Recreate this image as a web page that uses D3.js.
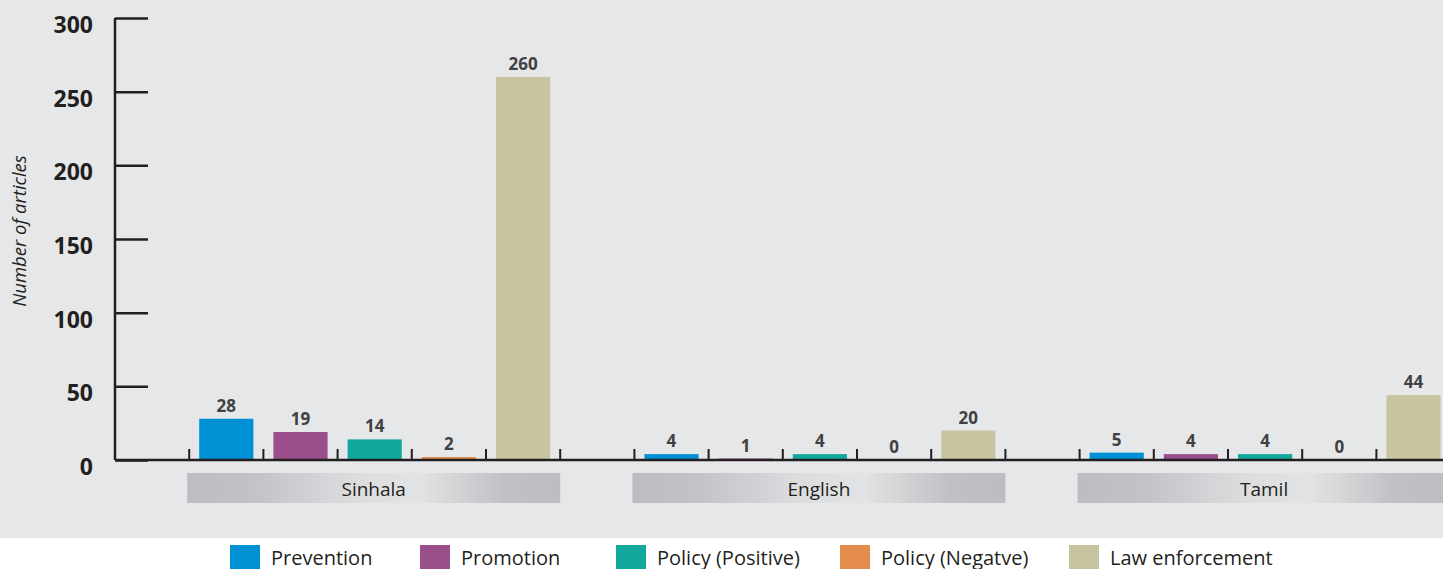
<!DOCTYPE html>
<html>
<head>
<meta charset="utf-8">
<script src="https://cdn.jsdelivr.net/npm/d3@7/dist/d3.min.js"></script>
<style>
  html, body { margin: 0; padding: 0; background: #ffffff; }
  svg { display: block; }
  text { font-family: "Open Sans", "Noto Sans", sans-serif; }
</style>
</head>
<body>
<svg id="chart" width="1443" height="569"></svg>
<script>
// ---- data ----
const categories = ["Sinhala", "English", "Tamil"];
const series = ["Prevention", "Promotion", "Policy (Positive)", "Policy (Negatve)", "Law enforcement"];
const sinhalaValues = [28, 19, 14, 2, 260];
const englishValues = [4, 1, 4, 0, 20];
const tamilValues = [5, 4, 4, 0, 44];
const yTicks = [0, 50, 100, 150, 200, 250, 300];
const colors = ["#0091d5", "#9a4f8b", "#12a89d", "#e38c4b", "#c7c49f"];
const yTitle = "Number of articles";

const valuesByCategory = [sinhalaValues, englishValues, tamilValues];
const table = categories.map((c, i) => ({ category: c, values: series.map((s, j) => ({ series: s, value: valuesByCategory[i][j] })) }));

// ---- layout ----
const W = 1443, H = 569;
const axisX = 115, baseY = 460, topY = 18;
const slot = 74.2;
const svg = d3.select("#chart");

svg.append("rect").attr("x", 0).attr("y", 0).attr("width", W).attr("height", 538).attr("fill", "#e6e7e8");

const defs = svg.append("defs");
const grad = defs.append("linearGradient").attr("id", "lblGrad").attr("x1", "0%").attr("x2", "100%").attr("y1", "0%").attr("y2", "0%");
[[0, "#bcbdc0"], [0.18, "#c2c3c6"], [0.45, "#dcdddf"], [0.62, "#e2e3e4"], [0.85, "#c0c1c4"], [1, "#bcbdc0"]]
  .forEach(([o, c]) => grad.append("stop").attr("offset", o).attr("stop-color", c));

const y = d3.scaleLinear().domain([0, 300]).range([baseY, topY]);
const x0 = d3.scaleBand().domain(categories).range([axisX, axisX + slot * 6 * categories.length]).paddingInner(0).paddingOuter(0);
const x1 = d3.scaleBand().domain(["__gap"].concat(series)).range([0, x0.bandwidth()]).paddingInner(0).paddingOuter(0);
const color = d3.scaleOrdinal().domain(series).range(colors);
const inset = 10;

// category label strips
const strips = svg.append("g");
categories.forEach(c => {
  const gx = x0(c) + x1(series[0]) - 2;
  const gw = x1.bandwidth() * series.length + 2;
  strips.append("rect").attr("x", gx).attr("y", 473).attr("width", gw).attr("height", 30).attr("fill", "url(#lblGrad)");
  strips.append("text").attr("x", gx + gw / 2).attr("y", 496).attr("text-anchor", "middle")
    .attr("font-size", 19).attr("fill", "#231f20").text(c);
});

// bars
const groups = svg.append("g").selectAll("g").data(table).join("g")
  .attr("transform", d => `translate(${x0(d.category)},0)`);

groups.selectAll("rect").data(d => d.values).join("rect")
  .attr("x", d => x1(d.series) + inset)
  .attr("width", x1.bandwidth() - 2 * inset)
  .attr("y", d => y(d.value))
  .attr("height", d => baseY - y(d.value))
  .attr("fill", d => color(d.series));

groups.selectAll("text.val").data(d => d.values).join("text")
  .attr("class", "val")
  .attr("x", d => x1(d.series) + x1.bandwidth() / 2)
  .attr("y", d => y(d.value) - 7)
  .attr("text-anchor", "middle")
  .attr("font-size", 17).attr("font-weight", "bold").attr("fill", "#414042")
  .text(d => d.value);

// baseline small ticks (group boundaries)
groups.each(function(d) {
  const g = d3.select(this);
  const bounds = series.map(s => x1(s)).concat([x1(series[series.length - 1]) + x1.bandwidth()]);
  g.selectAll("line.bt").data(bounds).join("line").attr("class", "bt")
    .attr("x1", b => b).attr("x2", b => b).attr("y1", baseY - 11).attr("y2", baseY)
    .attr("stroke", "#231f20").attr("stroke-width", 2);
});

// baseline
svg.append("line").attr("x1", axisX).attr("x2", W).attr("y1", baseY).attr("y2", baseY)
  .attr("stroke", "#231f20").attr("stroke-width", 2.5);

// y axis
const yAxis = d3.axisRight(y).tickValues(yTicks).tickSize(33).tickFormat("");
const ya = svg.append("g").attr("transform", `translate(${axisX},0)`).call(yAxis);
ya.select(".domain").attr("stroke", "#231f20").attr("stroke-width", 2.5).attr("d", `M0,${topY}V${baseY}`);
ya.selectAll(".tick line").attr("stroke", "#231f20").attr("stroke-width", 2.5);

svg.append("g").selectAll("text").data(yTicks).join("text")
  .attr("x", 93).attr("y", d => y(d) + 15).attr("text-anchor", "end")
  .attr("font-size", 23).attr("font-weight", "bold").attr("fill", "#231f20")
  .text(d => d);

svg.append("text").attr("transform", `translate(26,231) rotate(-90)`).attr("text-anchor", "middle")
  .attr("font-size", 18.5).attr("font-style", "italic").attr("fill", "#231f20").text(yTitle);

// legend
const legendX = [230, 420, 616, 840, 1069];
const lg = svg.append("g").selectAll("g").data(series).join("g")
  .attr("transform", (d, i) => `translate(${legendX[i]},545)`);
lg.append("rect").attr("width", 30).attr("height", 26).attr("fill", d => color(d));
lg.append("text").attr("x", 41).attr("y", 19.5).attr("font-size", 20).attr("fill", "#231f20").text(d => d);
</script>
</body>
</html>
